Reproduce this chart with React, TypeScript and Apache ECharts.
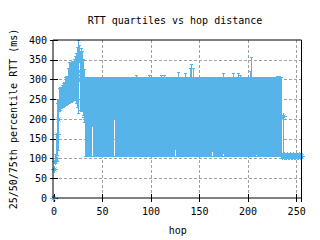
import React, { useEffect, useRef } from "react";
import * as echarts from "echarts";

const TITLE = "RTT quartiles vs hop distance";
const X_NAME = "hop";
const Y_NAME = "25/50/75th percentile RTT (ms)";
const X_TICKS = [0, 50, 100, 150, 200, 250];
const Y_TICKS = [0, 50, 100, 150, 200, 250, 300, 350, 400];

// 25th percentile per hop (index = hop)
const q25 = [
  0, 70, 88, 95, 108, 120, 218, 222, 226, 228, 230, 232, 233, 235, 236, 238,
  240, 241, 242, 244, 246, 248, 246, 240, 230, 215, 342, 222, 220, 218, 210, 190,
  105, 105, 105, 105, 105, 105, 105, 105, 180, 105, 105, 105, 105, 105, 105, 105,
  105, 105, 105, 105, 105, 105, 105, 105, 105, 105, 105, 105, 105, 105, 200, 105,
  105, 105, 105, 105, 105, 105, 105, 105, 105, 105, 105, 105, 105, 105, 105, 105,
  105, 105, 105, 105, 105, 105, 105, 105, 105, 105, 105, 105, 105, 105, 105, 105,
  105, 105, 105, 105, 105, 105, 105, 105, 105, 105, 105, 105, 105, 105, 105, 105,
  105, 105, 105, 105, 105, 105, 105, 105, 105, 105, 105, 105, 105, 122, 105, 105,
  105, 105, 105, 105, 105, 105, 105, 105, 105, 105, 105, 105, 105, 105, 105, 105,
  105, 105, 105, 105, 105, 105, 105, 105, 105, 105, 105, 105, 105, 105, 105, 105,
  105, 105, 105, 117, 105, 105, 105, 105, 105, 105, 105, 105, 105, 105, 105, 112,
  105, 105, 105, 105, 105, 105, 105, 105, 105, 105, 105, 105, 105, 105, 105, 105,
  105, 105, 105, 105, 105, 105, 105, 105, 105, 105, 105, 105, 105, 105, 105, 105,
  105, 110, 105, 105, 105, 105, 105, 105, 105, 105, 105, 105, 105, 105, 105, 105,
  105, 105, 105, 105, 105, 105, 105, 105, 105, 105, 105, 100, 100, 100, 100, 100,
  100, 100, 100, 100, 100, 100, 100, 100, 100, 100, 100, 100, 100, 100, 100, 100,
];

// median per hop
const q50 = [
  0, 71, 92, 100, 160, 200, 240, 245, 250, 255, 258, 262, 265, 268, 272, 280,
  288, 292, 295, 298, 300, 302, 305, 310, 312, 320, 360, 300, 300, 295, 285, 260,
  205, 210, 200, 205, 208, 205, 202, 205, 230, 205, 200, 205, 210, 205, 205, 200,
  205, 205, 210, 205, 200, 205, 205, 208, 205, 205, 202, 205, 205, 205, 240, 205,
  205, 208, 205, 205, 200, 205, 205, 210, 205, 205, 205, 202, 205, 205, 208, 205,
  205, 205, 200, 205, 210, 205, 205, 205, 208, 205, 205, 200, 205, 205, 205, 210,
  205, 205, 205, 200, 205, 208, 205, 205, 205, 210, 205, 205, 200, 205, 205, 205,
  208, 205, 205, 205, 200, 205, 205, 210, 205, 205, 205, 205, 205, 215, 205, 205,
  205, 210, 205, 205, 200, 205, 205, 205, 208, 205, 205, 205, 210, 205, 205, 205,
  205, 200, 205, 205, 208, 205, 205, 205, 210, 205, 205, 200, 205, 205, 205, 208,
  205, 205, 205, 210, 205, 200, 205, 205, 205, 208, 205, 205, 205, 210, 205, 205,
  205, 200, 205, 205, 205, 208, 205, 205, 210, 205, 205, 205, 200, 205, 205, 205,
  208, 205, 205, 205, 210, 205, 200, 205, 205, 205, 208, 205, 205, 205, 210, 205,
  205, 205, 200, 205, 205, 208, 205, 205, 205, 210, 205, 205, 200, 205, 205, 205,
  208, 205, 205, 205, 210, 205, 205, 200, 205, 205, 205, 106, 207, 106, 107, 106,
  106, 107, 106, 106, 107, 106, 106, 107, 106, 106, 107, 106, 106, 107, 106, 106,
];

// 75th percentile per hop
const q75 = [
  1, 73, 110, 160, 250, 250, 278, 279, 280, 285, 290, 292, 305, 307, 308, 327,
  342, 344, 344, 345, 346, 350, 358, 365, 380, 400, 385, 372, 378, 370, 350, 325,
  305, 306, 305, 304, 305, 306, 305, 305, 306, 305, 305, 304, 305, 306, 305, 305,
  305, 305, 306, 305, 305, 304, 305, 305, 306, 305, 305, 305, 306, 305, 305, 305,
  305, 306, 305, 305, 305, 304, 305, 306, 305, 305, 305, 306, 305, 305, 304, 305,
  305, 305, 306, 305, 305, 311, 305, 305, 306, 305, 305, 304, 305, 305, 306, 305,
  305, 305, 311, 306, 305, 305, 305, 306, 305, 305, 304, 305, 305, 306, 305, 311,
  305, 305, 311, 305, 306, 305, 305, 305, 306, 305, 305, 305, 306, 305, 305, 305,
  318, 305, 305, 306, 305, 305, 305, 314, 305, 305, 306, 305, 305, 328, 338, 305,
  328, 305, 306, 305, 305, 305, 306, 305, 305, 304, 305, 306, 305, 305, 305, 306,
  305, 305, 306, 305, 305, 304, 305, 306, 305, 305, 305, 306, 305, 305, 305, 314,
  305, 305, 306, 305, 305, 305, 306, 305, 305, 316, 305, 305, 306, 305, 316, 305,
  310, 305, 306, 305, 305, 305, 306, 305, 305, 305, 321, 305, 356, 305, 306, 305,
  305, 305, 306, 305, 305, 305, 306, 305, 305, 304, 305, 306, 305, 305, 305, 306,
  305, 305, 306, 305, 305, 305, 308, 306, 307, 306, 305, 112, 210, 112, 113, 112,
  112, 113, 112, 112, 113, 112, 112, 113, 112, 112, 113, 112, 112, 113, 112, 112,
];

const COLOR = "#56b4e9";
const FONT = "DejaVu Sans Mono";

export default function App() {
  const ref = useRef<HTMLDivElement>(null);

  useEffect(() => {
    if (!ref.current) return;
    const chart = echarts.init(ref.current, undefined, { renderer: "svg" });
    const data = q25.map((lo, i) => [i, lo, q50[i], q75[i]]);

    const px = (v: number) => Math.floor(v) + 0.5;

    const renderItem = (params: any, api: any) => {
      const x = api.value(0);
      const lo = api.coord([x, api.value(1)]);
      const md = api.coord([x, api.value(2)]);
      const hi = api.coord([x, api.value(3)]);
      const cx = px(lo[0]);
      const yl = px(lo[1]);
      const yh = px(hi[1]);
      const ym = px(md[1]);
      const st = { stroke: COLOR, lineWidth: 1 };
      const cw = 1.5;
      const s = 3;
      const d = 2;
      return {
        type: "group",
        children: [
          { type: "line", shape: { x1: cx, y1: yl + 0.5, x2: cx, y2: yh - 0.5 }, style: st },
          { type: "line", shape: { x1: cx - cw, y1: yl, x2: cx + cw, y2: yl }, style: st },
          { type: "line", shape: { x1: cx - cw, y1: yh, x2: cx + cw, y2: yh }, style: st },
          { type: "line", shape: { x1: cx - s - 0.5, y1: ym, x2: cx + s + 0.5, y2: ym }, style: st },
          { type: "line", shape: { x1: cx, y1: ym - s - 0.5, x2: cx, y2: ym + s + 0.5 }, style: st },
          { type: "line", shape: { x1: cx - d, y1: ym - d, x2: cx + d, y2: ym + d }, style: st },
          { type: "line", shape: { x1: cx - d, y1: ym + d, x2: cx + d, y2: ym - d }, style: st },
        ],
      };
    };

    const splitLine = {
      show: true,
      showMinLine: false,
      showMaxLine: false,
      lineStyle: { color: "#a0a0a0", width: 1, type: [3, 2] },
    };
    const tick = { show: true, inside: true, length: 4, lineStyle: { color: "#000" } };
    const label = { color: "#000", fontFamily: FONT, fontSize: 10 };

    chart.setOption({
      animation: false,
      backgroundColor: "#fff",
      grid: { left: 53, right: 18.5, top: 40, bottom: 42, show: false },
      graphic: [
        {
          type: "text",
          x: 175,
          y: 20,
          style: {
            text: TITLE,
            font: `10px "${FONT}"`,
            fill: "#000",
            textAlign: "center",
            textVerticalAlign: "middle",
          },
        },
        {
          type: "rect",
          z: 100,
          shape: { x: 53, y: 40, width: 248.5, height: 158 },
          style: { fill: "none", stroke: "#000", lineWidth: 1 },
        },
      ],
      xAxis: [
        {
          type: "value",
          min: 0,
          max: 255,
          interval: 50,
          position: "bottom",
          name: X_NAME,
          nameLocation: "middle",
          nameGap: 27,
          nameTextStyle: { color: "#000", fontFamily: FONT, fontSize: 10 },
          axisLine: { show: false },
          axisTick: tick,
          axisLabel: {
            ...label,
            margin: 8,
            showMaxLabel: false,
            formatter: (v: number) => (X_TICKS.includes(v) ? String(v) : ""),
          },
          splitLine,
        },
        {
          type: "value",
          min: 0,
          max: 255,
          interval: 50,
          position: "top",
          axisLine: { show: false },
          axisTick: tick,
          axisLabel: { show: false },
          splitLine: { show: false },
        },
      ],
      yAxis: [
        {
          type: "value",
          min: 0,
          max: 400,
          interval: 50,
          position: "left",
          name: Y_NAME,
          nameLocation: "middle",
          nameGap: 34,
          nameRotate: 90,
          nameTextStyle: { color: "#000", fontFamily: FONT, fontSize: 10 },
          axisLine: { show: false },
          axisTick: tick,
          axisLabel: {
            ...label,
            margin: 7,
            formatter: (v: number) => (Y_TICKS.includes(v) ? String(v) : ""),
          },
          splitLine,
        },
        {
          type: "value",
          min: 0,
          max: 400,
          interval: 50,
          position: "right",
          axisLine: { show: false },
          axisTick: tick,
          axisLabel: { show: false },
          splitLine: { show: false },
        },
      ],
      series: [
        {
          type: "custom",
          xAxisIndex: 0,
          yAxisIndex: 0,
          clip: false,
          renderItem,
          encode: { x: 0, y: [1, 2, 3] },
          data,
          z: 5,
        },
      ],
    });

    return () => chart.dispose();
  }, []);

  return (
    <div
      ref={ref}
      style={{ position: "fixed", left: 0, top: 0, width: 320, height: 240 }}
    />
  );
}
